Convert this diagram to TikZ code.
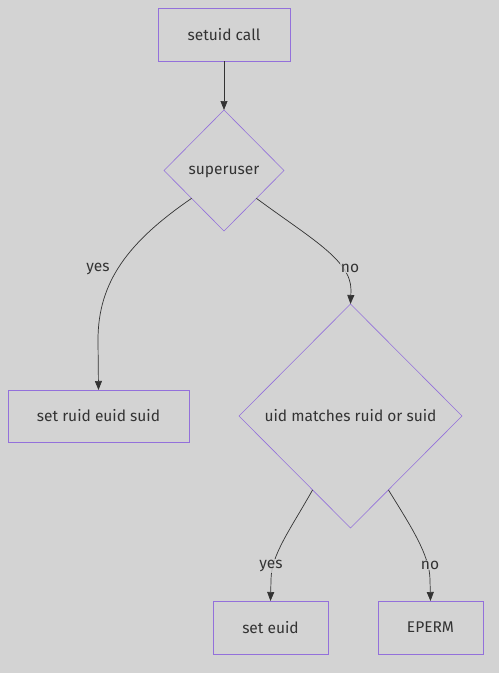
\documentclass[tikz,border=0pt]{standalone}
\usepackage{fontspec}
\setmainfont{Fira Sans}
\usepackage{xcolor}
\usepackage{tikz}
\usetikzlibrary{arrows.meta,shapes.geometric,calc}
\definecolor{bggray}{HTML}{D3D3D3}
\definecolor{mpurple}{HTML}{9370DB}
\definecolor{ink}{HTML}{333333}

\begin{document}
\begin{tikzpicture}[x=1pt,y=-1pt,font=\fontsize{15.5}{18}\selectfont,text=ink,
    box/.style={draw=mpurple,line width=0.8pt,minimum height=53pt,
                inner sep=0pt,outer sep=0pt},
    decision/.style={diamond,draw=mpurple,line width=0.6pt,
                inner sep=0pt,outer sep=0pt},
    edge/.style={draw=ink,line width=0.7pt,-{Triangle[length=9pt,width=7pt]}},
    lbl/.style={fill=bggray,fill opacity=0.8,text opacity=1,inner sep=1pt}]
      \fill[bggray] (0,0) rectangle (499,673);
      \useasboundingbox (0,0) rectangle (499,673);
      \node[box,minimum width=132pt] (call) at (224,34.5) {setuid call};
      \node[decision,text depth=0pt,minimum width=120pt,minimum height=121pt] (sup) at (224,170.5) {superuser};
      \node[box,minimum width=181pt,minimum height=52pt] (all) at (98.5,416) {set ruid euid suid};
      \node[decision,minimum width=223pt,minimum height=224pt] (match) at (350.5,416) {uid matches ruid or suid};
      \node[box,minimum width=115pt] (eff) at (270.5,627.5) {set euid};
      \node[box,minimum width=105pt] (perm) at (430.5,627.5) {EPERM};
      % connectors
      \draw[edge] (call) -- (sup.north);
      \draw[edge] ($(sup.south)!0.54!(sup.west)$) .. controls (128,242) and (98,282) .. (98,340) -- (all.north);
      \draw[edge] ($(sup.south)!0.54!(sup.east)$) .. controls (310,238) and (351,260) .. (351,290) -- (match.north);
      \draw[edge] ($(match.south)!0.34!(match.west)$) .. controls (290,530) and (271,555) .. (271,580) -- (eff.north);
      \draw[edge] ($(match.south)!0.34!(match.east)$) .. controls (410,525) and (430,555) .. (430,580) -- (perm.north);
      % edge labels
      \node[lbl] (yes1) at (98,269) {yes};
      \node[lbl] (no1) at (350,268) {no};
      \node[lbl] (yes2) at (271,566) {yes};
      \node[lbl] (no2) at (430,565) {no};
    \end{tikzpicture}
\end{document}
